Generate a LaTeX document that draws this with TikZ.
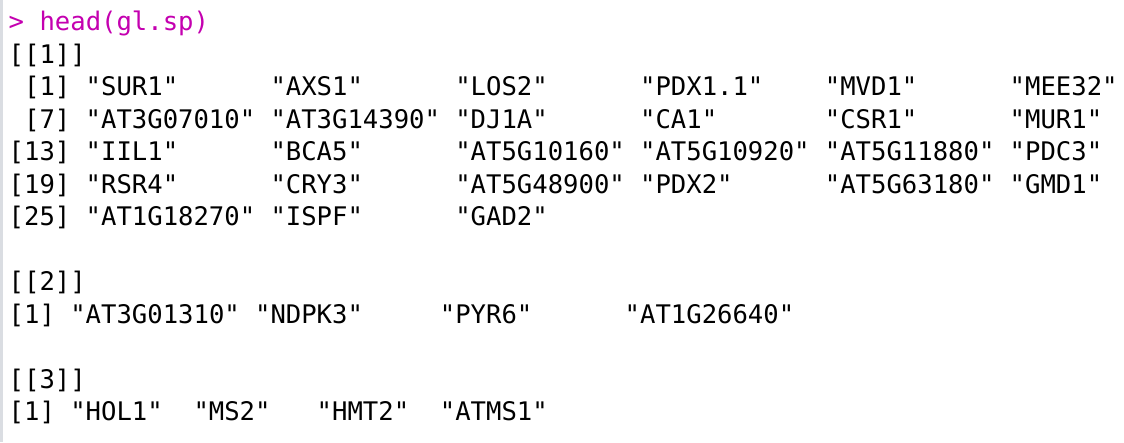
\documentclass[tikz,border=0pt]{standalone}
\usepackage{fontspec}
\setmonofont{DejaVu Sans Mono}
\usepackage{tikz}

\definecolor{rprompt}{RGB}{196,0,176}
\definecolor{rbar}{RGB}{218,221,226}
\newcommand{\rfont}{\ttfamily\fontsize{25.6pt}{32.5pt}\selectfont}
\tikzset{rtxt/.style={anchor=base west,inner sep=0pt,font=\rfont}}

\begin{document}
\begin{tikzpicture}[x=15.4pt,y=-32.5pt]
      \useasboundingbox (0pt,0pt) rectangle (1124pt,-442pt);
      \fill[rbar] (0pt,0pt) rectangle (3pt,-442pt);

      \begin{scope}[shift={(8.5pt,-30.5pt)}]
      \path (0,0) node[rtxt,text=rprompt] (cmd) {> head(gl.sp)};

      % first list element
      \path (0,1) node[rtxt] (lst1) {[[1]]};
      \path (1,2) node[rtxt] (r1) {[1]}
      (5,2) node[rtxt] (i1) {"SUR1"}
      (17,2) node[rtxt] (i2) {"AXS1"}
      (29,2) node[rtxt] (i3) {"LOS2"}
      (41,2) node[rtxt] (i4) {"PDX1.1"}
      (53,2) node[rtxt] (i5) {"MVD1"}
      (65,2) node[rtxt] (i6) {"MEE32"};
      \path (1,3) node[rtxt] (r7) {[7]}
      (5,3) node[rtxt] (i7) {"AT3G07010"}
      (17,3) node[rtxt] (i8) {"AT3G14390"}
      (29,3) node[rtxt] (i9) {"DJ1A"}
      (41,3) node[rtxt] (i10) {"CA1"}
      (53,3) node[rtxt] (i11) {"CSR1"}
      (65,3) node[rtxt] (i12) {"MUR1"};
      \path (0,4) node[rtxt] (r13) {[13]}
      (5,4) node[rtxt] (i13) {"IIL1"}
      (17,4) node[rtxt] (i14) {"BCA5"}
      (29,4) node[rtxt] (i15) {"AT5G10160"}
      (41,4) node[rtxt] (i16) {"AT5G10920"}
      (53,4) node[rtxt] (i17) {"AT5G11880"}
      (65,4) node[rtxt] (i18) {"PDC3"};
      \path (0,5) node[rtxt] (r19) {[19]}
      (5,5) node[rtxt] (i19) {"RSR4"}
      (17,5) node[rtxt] (i20) {"CRY3"}
      (29,5) node[rtxt] (i21) {"AT5G48900"}
      (41,5) node[rtxt] (i22) {"PDX2"}
      (53,5) node[rtxt] (i23) {"AT5G63180"}
      (65,5) node[rtxt] (i24) {"GMD1"};
      \path (0,6) node[rtxt] (r25) {[25]}
      (5,6) node[rtxt] (i25) {"AT1G18270"}
      (17,6) node[rtxt] (i26) {"ISPF"}
      (29,6) node[rtxt] (i27) {"GAD2"};

      % second list element
      \path (0,8) node[rtxt] (lst2) {[[2]]};
      \path (0,9) node[rtxt] (s1) {[1]}
      (4,9) node[rtxt] (j1) {"AT3G01310"}
      (16,9) node[rtxt] (j2) {"NDPK3"}
      (28,9) node[rtxt] (j3) {"PYR6"}
      (40,9) node[rtxt] (j4) {"AT1G26640"};

      % third list element
      \path (0,11) node[rtxt] (lst3) {[[3]]};
      \path (0,12) node[rtxt] (t1) {[1]}
      (4,12) node[rtxt] (k1) {"HOL1"}
      (12,12) node[rtxt] (k2) {"MS2"}
      (20,12) node[rtxt] (k3) {"HMT2"}
      (28,12) node[rtxt] (k4) {"ATMS1"};
      \end{scope}
    \end{tikzpicture}
\end{document}
